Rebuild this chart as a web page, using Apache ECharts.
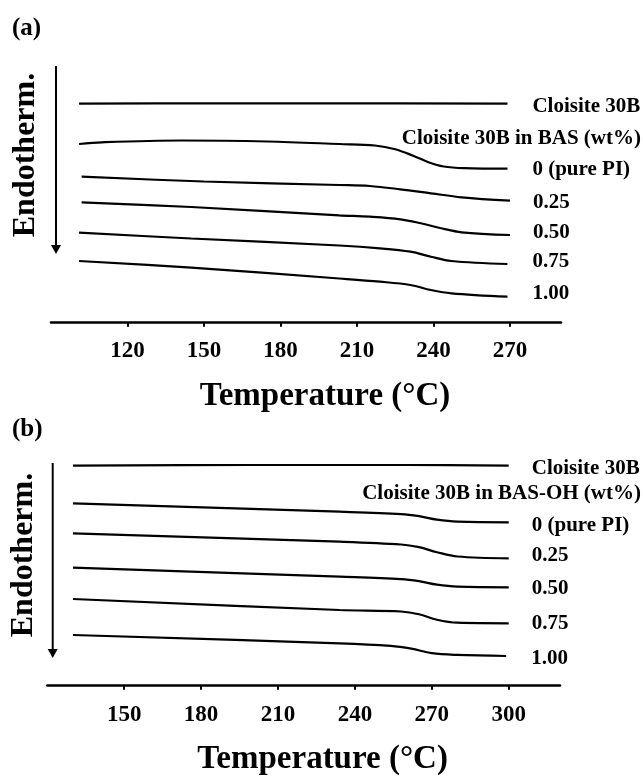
<!DOCTYPE html>
<html>
<head>
<meta charset="utf-8">
<script src="https://cdn.jsdelivr.net/npm/echarts@6/dist/echarts.min.js"></script>
<style>
  html, body { margin: 0; padding: 0; background: #fff; }
  #main { width: 643px; height: 776px; }
</style>
</head>
<body>
<div id="main"></div>
<script>
// panel (a): Cloisite 30B in BAS, [temperature (°C), heat flow (a.u.)]
var a_clay = [[101, 21.90], [150, 21.94], [200, 21.94], [269, 21.90]];
var a_000 = [[101, 17.87], [110, 18.04], [141, 18.22], [175, 18.12], [203, 17.87], [217, 17.72], [225, 17.35], [232, 16.70], [238, 16.05], [244, 15.62], [252, 15.45], [269, 15.40]];
var a_025 = [[102, 14.60], [150, 14.12], [203, 13.77], [215, 13.67], [227, 13.34], [239, 12.94], [251, 12.54], [270, 12.20]];
var a_050 = [[102, 12.04], [145, 11.57], [203, 10.74], [215, 10.60], [227, 10.34], [235, 9.94], [243, 9.44], [251, 9.04], [270, 8.77]];
var a_075 = [[101, 9.00], [145, 8.42], [203, 7.72], [219, 7.44], [231, 7.10], [239, 6.60], [247, 6.17], [269, 5.87]];
var a_100 = [[101, 6.17], [145, 5.50], [203, 4.42], [219, 4.10], [231, 3.77], [239, 3.27], [247, 2.94], [269, 2.60]];

// panel (b): Cloisite 30B in BAS-OH
var b_clay = [[130, 22.00], [200, 22.07], [260, 22.07], [300, 22.00]];
var b_000 = [[130, 18.24], [234, 17.40], [258, 17.16], [265, 16.95], [272, 16.60], [280, 16.40], [300, 16.34]];
var b_025 = [[130, 15.24], [234, 14.40], [258, 14.12], [265, 13.85], [272, 13.35], [280, 12.92], [300, 12.74]];
var b_050 = [[130, 11.80], [234, 10.90], [258, 10.66], [265, 10.45], [272, 10.10], [280, 9.90], [300, 9.84]];
var b_075 = [[130, 8.67], [234, 7.57], [258, 7.42], [265, 7.15], [272, 6.60], [280, 6.30], [300, 6.24]];
var b_100 = [[130, 5.07], [234, 4.24], [254, 3.98], [262, 3.70], [270, 3.25], [280, 3.08], [299, 2.97]];

var names = ['Cloisite 30B', '0 (pure PI)', '0.25', '0.50', '0.75', '1.00'];
var ticksA = [120, 150, 180, 210, 240, 270];
var ticksB = [150, 180, 210, 240, 270, 300];

var serif = '"Liberation Serif", "Times New Roman", serif';
var chartDom = document.getElementById('main');
var myChart = echarts.init(chartDom);
var option;

function xAxisOf(grid, min, max, ticks, margin) {
    return {
        type: 'value',
        gridIndex: grid,
        min: min,
        max: max,
        interval: 30,
        name: 'Temperature (°C)',
        nameLocation: 'middle',
        nameGap: 57,
        nameTextStyle: {
            fontFamily: serif, fontWeight: 'bold', fontSize: 33, color: '#000',
            padding: [0, 0, 0, 38]
        },
        axisLine: { onZero: false, lineStyle: { color: '#000', width: 2.5 } },
        axisTick: { customValues: ticks, length: 4, lineStyle: { color: '#000', width: 2 } },
        axisLabel: {
            customValues: ticks, margin: margin,
            fontFamily: serif, fontWeight: 'bold', fontSize: 23, color: '#000'
        },
        splitLine: { show: false }
    };
}

function curve(name, data, idx, dist, dy) {
    return {
        name: name,
        type: 'line',
        xAxisIndex: idx,
        yAxisIndex: idx,
        data: data,
        smooth: 0.35,
        symbol: 'none',
        silent: true,
        lineStyle: { color: '#000', width: 2.2 },
        endLabel: {
            show: true,
            formatter: name,
            distance: dist,
            offset: [0, dy],
            fontFamily: serif, fontWeight: 'bold', fontSize: 21, color: '#000'
        }
    };
}

option = {
    animation: false,
    backgroundColor: '#fff',
    grid: [
        { left: 51, right: 82, top: 62.7, height: 260, outerBoundsMode: 'none' },
        { left: 47.3, right: 83, top: 425.7, height: 260, outerBoundsMode: 'none' }
    ],
    xAxis: [
        xAxisOf(0, 90, 290, ticksA, 17),
        xAxisOf(1, 120, 320, ticksB, 18)
    ],
    yAxis: [
        { type: 'value', gridIndex: 0, min: 0, max: 26, show: false },
        { type: 'value', gridIndex: 1, min: 0, max: 26, show: false }
    ],
    graphic: [
        { type: 'text', left: 12, top: 16, style: { text: '(a)', font: 'bold 25px ' + serif, fill: '#000' } },
        { type: 'text', left: 12, top: 417, style: { text: '(b)', font: 'bold 25px ' + serif, fill: '#000' } },
        { type: 'text', x: 26, y: 155, rotation: Math.PI / 2,
          style: { text: 'Endotherm.', font: 'bold 32px ' + serif, fill: '#000', align: 'center', verticalAlign: 'middle' } },
        { type: 'text', x: 23.5, y: 555, rotation: Math.PI / 2,
          style: { text: 'Endotherm.', font: 'bold 32px ' + serif, fill: '#000', align: 'center', verticalAlign: 'middle' } },
        { type: 'line', shape: { x1: 56, y1: 66, x2: 56, y2: 247 }, style: { stroke: '#000', lineWidth: 2 } },
        { type: 'polygon', shape: { points: [[51, 245], [61, 245], [56, 254]] }, style: { fill: '#000' } },
        { type: 'line', shape: { x1: 52.7, y1: 463, x2: 52.7, y2: 651 }, style: { stroke: '#000', lineWidth: 2 } },
        { type: 'polygon', shape: { points: [[47.7, 649], [57.7, 649], [52.7, 658]] }, style: { fill: '#000' } },
        { type: 'text', x: 641, y: 138.3,
          style: { text: 'Cloisite 30B in BAS (wt%)', font: 'bold 21px ' + serif, fill: '#000', align: 'right', verticalAlign: 'middle' } },
        { type: 'text', x: 641, y: 493.3,
          style: { text: 'Cloisite 30B in BAS-OH (wt%)', font: 'bold 21px ' + serif, fill: '#000', align: 'right', verticalAlign: 'middle' } }
    ],
    series: [
        curve(names[0], a_clay, 0, 25, 3),
        curve(names[1], a_000, 0, 25, 1),
        curve(names[2], a_025, 0, 23, 2),
        curve(names[3], a_050, 0, 23, -2),
        curve(names[4], a_075, 0, 25, -2),
        curve(names[5], a_100, 0, 25, -3),
        curve(names[0], b_clay, 1, 23, 3),
        curve(names[1], b_000, 1, 23, 3),
        curve(names[2], b_025, 1, 23, -3),
        curve(names[3], b_050, 1, 23, 1),
        curve(names[4], b_075, 1, 23, 0),
        curve(names[5], b_100, 1, 25, 3)
    ]
};

option && myChart.setOption(option);
window.addEventListener("resize", function () {
    myChart.resize();
});
</script>
</body>
</html>
